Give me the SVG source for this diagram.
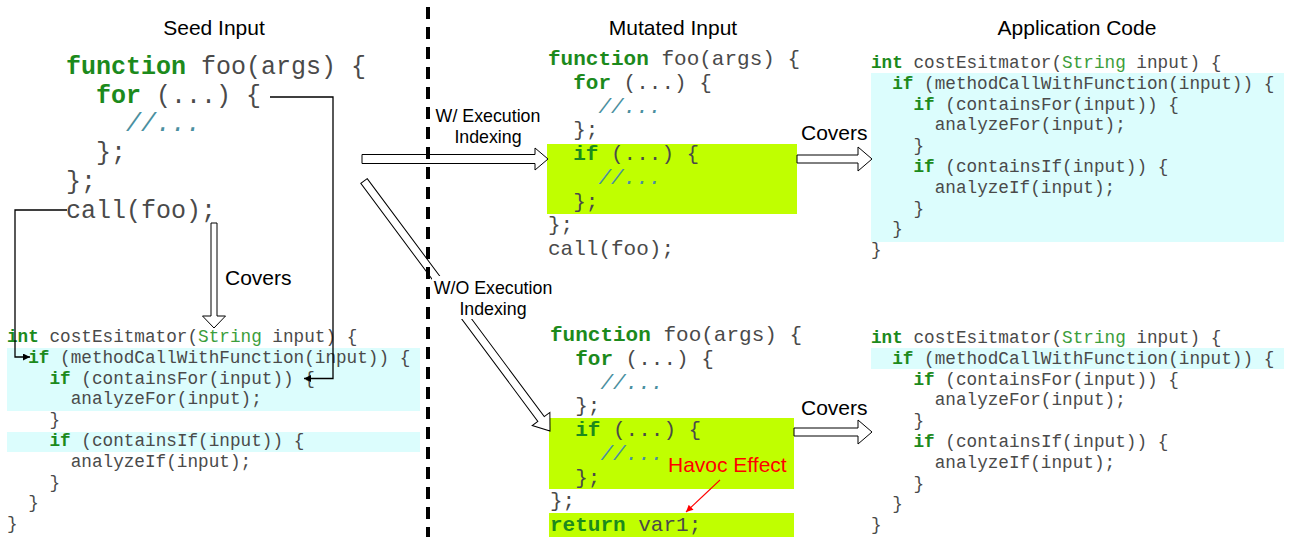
<svg xmlns="http://www.w3.org/2000/svg" width="1291" height="537" viewBox="0 0 1291 537">
<style>
.code{font-family:"Liberation Mono","Courier New",monospace;fill:#4a4a4a}
.s25{font-size:25px}.s21{font-size:21px}.s18{font-size:17.7px}
.kw{fill:#1c8a1c;font-weight:bold}
.ty{fill:#3c9e3c}
.cm{fill:#4a8fa0;font-style:italic}
.lbl{font-family:"Liberation Sans",Arial,sans-serif;fill:#000}
.hdr{font-size:21px;text-anchor:middle}
.cyan{fill:#dcfdfd}
.lime{fill:#c0ff00}
.blk{fill:#fff;stroke:#000;stroke-width:1}
.conn{fill:none;stroke:#000;stroke-width:1.3}
</style>
<defs>
<marker id="ah" viewBox="0 0 10 10" refX="10" refY="5" markerWidth="9" markerHeight="7" markerUnits="userSpaceOnUse" orient="auto"><path d="M0,0 L10,5 L0,10 z" fill="#000"/></marker>
<marker id="ahr" viewBox="0 0 10 10" refX="10" refY="5" markerWidth="9" markerHeight="7" markerUnits="userSpaceOnUse" orient="auto"><path d="M0,0 L10,5 L0,10 z" fill="#f00"/></marker>
</defs>
<rect width="1291" height="537" fill="#fff"/>

<g id="headers">
<text class="lbl hdr" x="214" y="34.5">Seed Input</text>
<text class="lbl hdr" x="673" y="34.5">Mutated Input</text>
<text class="lbl hdr" x="1077" y="34.5">Application Code</text>
</g>

<g id="seed-input" class="code s25">
<text x="66" y="74"><tspan class="kw">function</tspan> foo(args) {</text>
<text x="96" y="102.7"><tspan class="kw">for</tspan> (...) {</text>
<text x="126" y="131.4" class="cm">//...</text>
<text x="96" y="160.1">};</text>
<text x="66" y="188.8">};</text>
<text x="66" y="217.5">call(foo);</text>
</g>

<g id="seed-app-code">
<rect class="cyan" x="7" y="348" width="413" height="63"/>
<rect class="cyan" x="7" y="432" width="413" height="20"/>
<g class="code s18">
<text x="7" y="342"><tspan class="kw">int</tspan> costEsitmator(<tspan class="ty">String</tspan> input) {</text>
<text x="28.2" y="362.8"><tspan class="kw">if</tspan> (methodCallWithFunction(input)) {</text>
<text x="49.5" y="383.6"><tspan class="kw">if</tspan> (containsFor(input)) {</text>
<text x="70.7" y="404.4">analyzeFor(input);</text>
<text x="49.5" y="425.2">}</text>
<text x="49.5" y="446"><tspan class="kw">if</tspan> (containsIf(input)) {</text>
<text x="70.7" y="466.8">analyzeIf(input);</text>
<text x="49.5" y="487.6">}</text>
<text x="28.2" y="508.4">}</text>
<text x="7" y="529.2">}</text>
</g>
</g>

<g id="mutated-with-ei">
<rect class="lime" x="547" y="144" width="250" height="70"/>
<g class="code s21">
<text x="548" y="65"><tspan class="kw">function</tspan> foo(args) {</text>
<text x="573.2" y="88.75"><tspan class="kw">for</tspan> (...) {</text>
<text x="598.4" y="112.5" class="cm">//...</text>
<text x="573.2" y="136.25">};</text>
<text x="573.2" y="160"><tspan class="kw">if</tspan> (...) {</text>
<text x="598.4" y="183.75" class="cm">//...</text>
<text x="573.2" y="207.5">};</text>
<text x="548" y="231.25">};</text>
<text x="548" y="255">call(foo);</text>
</g>
</g>

<g id="mutated-without-ei">
<rect class="lime" x="549" y="418" width="245" height="71"/>
<rect class="lime" x="549" y="513" width="245" height="24"/>
<g class="code s21">
<text x="550" y="341"><tspan class="kw">function</tspan> foo(args) {</text>
<text x="575.2" y="364.75"><tspan class="kw">for</tspan> (...) {</text>
<text x="600.4" y="388.5" class="cm">//...</text>
<text x="575.2" y="412.25">};</text>
<text x="575.2" y="436"><tspan class="kw">if</tspan> (...) {</text>
<text x="600.4" y="459.75" class="cm">//...</text>
<text x="575.2" y="483.5">};</text>
<text x="550" y="507.25">};</text>
<text x="550" y="531"><tspan class="kw">return</tspan> var1;</text>
</g>
<text x="668" y="472" font-family="Liberation Sans, Arial, sans-serif" font-size="21" fill="#f00">Havoc Effect</text>
<line x1="720" y1="480" x2="686" y2="512" stroke="#f00" stroke-width="1.1" marker-end="url(#ahr)"/>
</g>

<g id="app-code-top">
<rect class="cyan" x="871" y="73" width="413" height="169"/>
<g class="code s18">
<text x="871" y="68"><tspan class="kw">int</tspan> costEsitmator(<tspan class="ty">String</tspan> input) {</text>
<text x="892.2" y="88.8"><tspan class="kw">if</tspan> (methodCallWithFunction(input)) {</text>
<text x="913.5" y="109.6"><tspan class="kw">if</tspan> (containsFor(input)) {</text>
<text x="934.7" y="130.4">analyzeFor(input);</text>
<text x="913.5" y="151.2">}</text>
<text x="913.5" y="172"><tspan class="kw">if</tspan> (containsIf(input)) {</text>
<text x="934.7" y="192.8">analyzeIf(input);</text>
<text x="913.5" y="213.6">}</text>
<text x="892.2" y="234.4">}</text>
<text x="871" y="255.2">}</text>
</g>
</g>

<g id="app-code-bottom">
<rect class="cyan" x="871" y="348" width="413" height="21"/>
<g class="code s18">
<text x="871" y="343"><tspan class="kw">int</tspan> costEsitmator(<tspan class="ty">String</tspan> input) {</text>
<text x="892.2" y="363.8"><tspan class="kw">if</tspan> (methodCallWithFunction(input)) {</text>
<text x="913.5" y="384.6"><tspan class="kw">if</tspan> (containsFor(input)) {</text>
<text x="934.7" y="405.4">analyzeFor(input);</text>
<text x="913.5" y="426.2">}</text>
<text x="913.5" y="447"><tspan class="kw">if</tspan> (containsIf(input)) {</text>
<text x="934.7" y="467.8">analyzeIf(input);</text>
<text x="913.5" y="488.6">}</text>
<text x="892.2" y="509.4">}</text>
<text x="871" y="530.2">}</text>
</g>
</g>

<g id="connectors">
<path class="conn" d="M270,97 H333 V378.5 H304" marker-end="url(#ah)"/>
<path class="conn" d="M67,210 H15 V357 H30" marker-end="url(#ah)"/>
<polygon class="blk" points="211,223 217,223 217,316 225.5,316 214,328 202.5,316 211,316"/>
<text class="lbl" x="225" y="285" font-size="21">Covers</text>
<polygon class="blk" points="362,154.5 535,154.5 535,148 548,159 535,170 535,163.5 362,163.5"/>
<polygon class="blk" transform="translate(364,181) rotate(53.35)" points="0,-4 296.6,-4 296.6,-11 311.6,0 296.6,11 296.6,4 0,4"/>
<polygon class="blk" points="797,155 858,155 858,147 872,159 858,171 858,163 797,163"/>
<text class="lbl" x="801" y="140" font-size="21">Covers</text>
<polygon class="blk" points="794,428 858,428 858,420 872,432 858,444 858,436 794,436"/>
<text class="lbl" x="801" y="415" font-size="21">Covers</text>
</g>

<line id="divider" x1="428" y1="7" x2="428" y2="537" stroke="#000" stroke-width="4" stroke-dasharray="12 8"/>

<g id="labels">
<text class="lbl" x="488" y="121.5" text-anchor="middle" font-size="17.8">W/ Execution</text>
<text class="lbl" x="488" y="143" text-anchor="middle" font-size="17.8">Indexing</text>
<rect x="432" y="276" width="125" height="43" fill="#fff"/>
<text class="lbl" x="493" y="293.5" text-anchor="middle" font-size="17.8">W/O Execution</text>
<text class="lbl" x="493" y="315" text-anchor="middle" font-size="17.8">Indexing</text>
</g>
</svg>
